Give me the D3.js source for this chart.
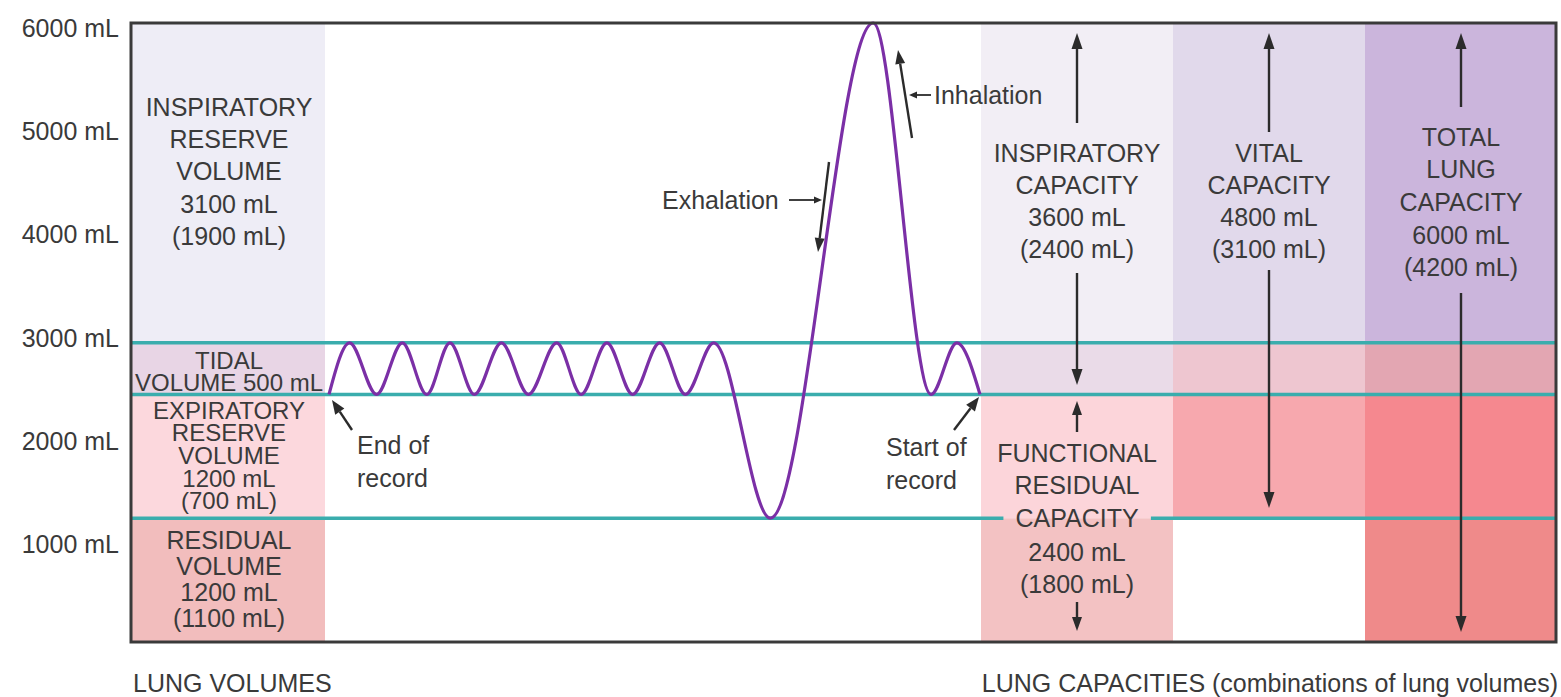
<!DOCTYPE html>
<html><head><meta charset="utf-8">
<script src="https://cdn.jsdelivr.net/npm/d3@7"></script>
<style>html,body{margin:0;padding:0;background:#fff;overflow:hidden}
text{font-family:"Liberation Sans",Arial,Helvetica,sans-serif;fill:#3a3a3a;}</style>
</head><body><svg id="c" width="1561" height="697"></svg>
<script>
// ---------------- DATA ----------------
const yTicks = [1000, 2000, 3000, 4000, 5000, 6000];
const tickLabels = ["1000 mL", "2000 mL", "3000 mL", "4000 mL", "5000 mL", "6000 mL"];
// boundaries of the four lung volumes: RV, ERV, TV, IRV
const volumeBounds = [0, 1200, 2400, 2900, 6000];
// spirometer trace (time in s, volume in mL)
const traceTime = [0, 1.6, 3.7, 5.7, 7.6, 9.4, 11.3, 13.4, 15.5, 17.7, 19.6, 21.6, 23.6, 25.7, 27.7, 29.9, 34.3, 42.3, 46.8, 48.8, 50.6];
const traceVolume = [2400, 2900, 2400, 2900, 2400, 2900, 2400, 2900, 2400, 2900, 2400, 2900, 2400, 2900, 2400, 2900, 1200, 6000, 2400, 2900, 2400];
const volumeLabels = [
  ["INSPIRATORY", "RESERVE", "VOLUME", "3100 mL", "(1900 mL)"],
  ["TIDAL", "VOLUME 500 mL"],
  ["EXPIRATORY", "RESERVE", "VOLUME", "1200 mL", "(700 mL)"],
  ["RESIDUAL", "VOLUME", "1200 mL", "(1100 mL)"]
];
const capacityLabels = [
  ["INSPIRATORY", "CAPACITY", "3600 mL", "(2400 mL)"],
  ["VITAL", "CAPACITY", "4800 mL", "(3100 mL)"],
  ["TOTAL", "LUNG", "CAPACITY", "6000 mL", "(4200 mL)"],
  ["FUNCTIONAL", "RESIDUAL", "CAPACITY", "2400 mL", "(1800 mL)"]
];
const annotationLabels = {inh: "Inhalation", exh: "Exhalation", end: ["End of", "record"], start: ["Start of", "record"]};
const footerLabels = ["LUNG VOLUMES", "LUNG CAPACITIES (combinations of lung volumes)"];

// ---------------- LAYOUT / STYLE ----------------
const svg = d3.select("#c");
const frame = {l: 131, r: 1556, t: 23, b: 642};
const colX = {vol: [131, 325], ic: [981, 1173], vc: [1173, 1365], tlc: [1365, 1556]};
const traceX = [329, 980];
const palette = {
  vol: ["#f2bdbd", "#fcd8dd", "#e8d5e5", "#eeedf6"],
  ic:  ["#f3c2c3", "#fcd5da", "#eadbe8", "#f2eef5"],
  vc:  ["#ffffff", "#f7a8ae", "#eec6d0", "#e1d9eb"],
  tlc: ["#ef8a8a", "#f5888f", "#e3a6b2", "#cbb5dc"]
};
const teal = "#3aadad", purple = "#7b2fa6", ink = "#2b2b2b";
const FS = 25;

const y = d3.scaleLinear().domain([0, 6000]).range([frame.b, frame.t]);
const x = d3.scaleLinear().domain([traceTime[0], traceTime[traceTime.length - 1]]).range(traceX);

// background cells
["vol", "ic", "vc", "tlc"].forEach(c => {
  for (let i = 0; i < 4; i++) {
    svg.append("rect")
      .attr("x", colX[c][0]).attr("width", colX[c][1] - colX[c][0])
      .attr("y", y(volumeBounds[i + 1])).attr("height", y(volumeBounds[i]) - y(volumeBounds[i + 1]))
      .attr("fill", palette[c][i]);
  }
});

// text helper
function block(lines, cx, ys, anchor, size) {
  const g = svg.append("g");
  lines.forEach((s, i) => {
    g.append("text").attr("x", cx).attr("y", ys[i]).attr("dy", "0.36em")
      .attr("text-anchor", anchor || "middle").style("font-size", (size || FS) + "px")
      .text(s);
  });
  return g;
}

// y-axis tick labels
svg.append("g").selectAll("text").data(yTicks).join("text")
  .attr("x", 119).attr("y", d => y(d) + 5).attr("dy", "0.36em")
  .attr("text-anchor", "end").style("font-size", FS + "px")
  .text((d, i) => tickLabels[i]);

// volume labels
const volCx = (colX.vol[0] + colX.vol[1]) / 2 + 1;
block(volumeLabels[0], volCx, [107, 139, 171, 204, 236]);
block(volumeLabels[1], volCx, [360, 382], "middle", 24);
block(volumeLabels[2], volCx, [410, 432, 455, 478, 500], "middle", 24);
block(volumeLabels[3], volCx, [540, 566, 592, 618]);

// capacity labels
block(capacityLabels[0], 1077, [153, 185, 217, 249]);
block(capacityLabels[1], 1269, [153, 185, 217, 249]);
block(capacityLabels[2], 1461, [137, 169, 202, 235, 267]);
const frc = block(capacityLabels[3], 1077, [453, 485, 518, 552, 584]);

// teal boundary lines
const capText = frc.selectAll("text").nodes()[2].getBBox();
const tealSegs = [
  [volumeBounds[3], frame.l, frame.r],
  [volumeBounds[2], frame.l, frame.r],
  [volumeBounds[1], frame.l, capText.x - 12],
  [volumeBounds[1], capText.x + capText.width + 12, frame.r]
];
svg.append("g").selectAll("line").data(tealSegs).join("line")
  .attr("x1", d => d[1]).attr("x2", d => d[2])
  .attr("y1", d => y(d[0])).attr("y2", d => y(d[0]))
  .attr("stroke", teal).attr("stroke-width", 3.5);

// spirometer trace
const pts = traceTime.map((t, i) => [t, traceVolume[i]]);
svg.append("path").datum(pts)
  .attr("d", d3.line().x(d => x(d[0])).y(d => y(d[1])).curve(d3.curveMonotoneX))
  .attr("fill", "none").attr("stroke", purple).attr("stroke-width", 3.2);

// arrows
function arrow(x1, y1, x2, y2, hl, hw, sw) {
  const a = Math.atan2(y2 - y1, x2 - x1);
  const bx = x2 - hl * Math.cos(a), by = y2 - hl * Math.sin(a);
  svg.append("line").attr("x1", x1).attr("y1", y1).attr("x2", bx).attr("y2", by)
    .attr("stroke", ink).attr("stroke-width", sw || 2.4);
  const px = -Math.sin(a) * hw / 2, py = Math.cos(a) * hw / 2;
  svg.append("path").attr("d", `M${x2},${y2}L${bx + px},${by + py}L${bx - px},${by - py}Z`).attr("fill", ink);
}
arrow(1077, 123, 1077, 33, 16, 11);
arrow(1077, 273, 1077, 385, 16, 11);
arrow(1077, 432, 1077, 401, 14, 10);
arrow(1077, 602, 1077, 631, 14, 10);
arrow(1269, 132, 1269, 33, 16, 11);
arrow(1269, 270, 1269, 508, 16, 11);
arrow(1461, 107, 1461, 33, 16, 11);
arrow(1461, 293, 1461, 632, 16, 11);
arrow(912, 138, 898, 50, 14, 10);
arrow(931, 95, 909, 95, 8, 7, 1.8);
arrow(829, 162, 818, 252, 14, 10);
arrow(789, 200, 822, 200, 8, 7, 1.8);
arrow(352, 430, 332, 400, 14, 11);
arrow(954, 430, 979, 397, 14, 11);

block([annotationLabels.inh], 934, [95], "start");
block([annotationLabels.exh], 662, [200], "start");
block(annotationLabels.end, 357, [445, 478], "start");
block(annotationLabels.start, 886, [447, 480], "start");

// frame
svg.append("rect").attr("x", frame.l).attr("y", frame.t)
  .attr("width", frame.r - frame.l).attr("height", frame.b - frame.t)
  .attr("fill", "none").attr("stroke", "#3a3a3a").attr("stroke-width", 3);

// footers
block([footerLabels[0]], 133, [683], "start");
block([footerLabels[1]], 1558, [683], "end");
</script></body></html>
